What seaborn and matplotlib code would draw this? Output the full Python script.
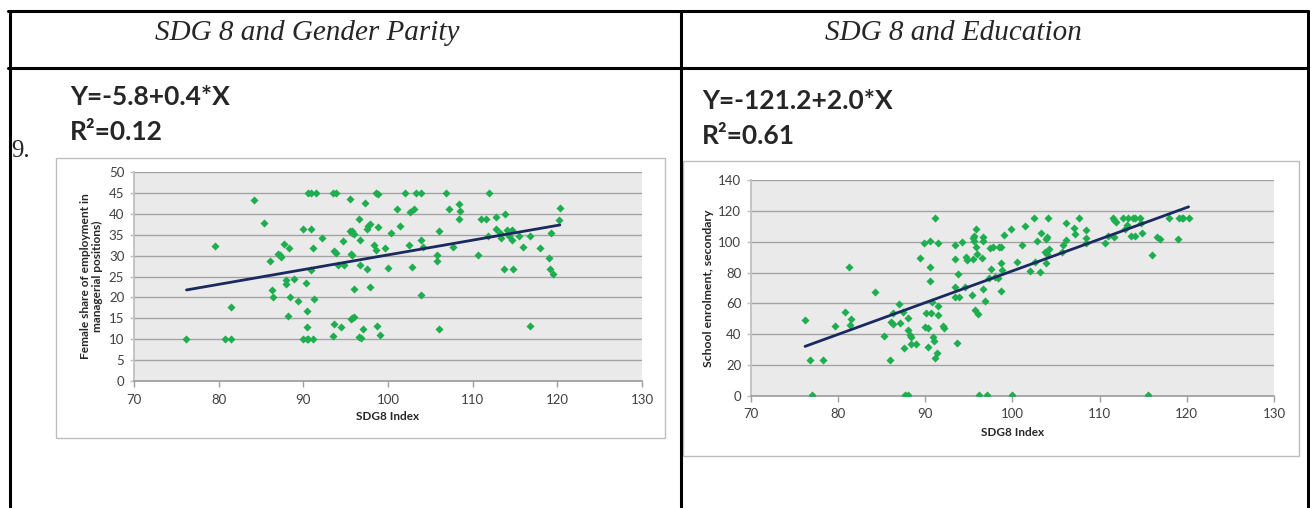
import matplotlib.pyplot as plt
import matplotlib.lines as mlines
import matplotlib.patches as mpatches
import numpy as np
import seaborn as sns
import pandas as pd

sns.set_theme(style="white")
plt.rcParams['font.family'] = ['Lato', 'DejaVu Sans']

# ---- data ----
gender_x = [76.2, 79.6, 81.4, 80.8, 81.4, 84.2, 85.3, 86.1, 86.3, 86.4,
            87.0, 87.2, 87.4, 87.7, 87.9, 87.9, 88.3, 88.2, 88.4, 88.9,
            89.4, 90.0, 90.0, 90.4, 90.6, 90.3, 90.4, 90.4, 90.5, 90.9,
            90.9, 90.9, 91.1, 91.2, 91.3, 91.5, 92.2, 93.5, 93.9, 93.5,
            93.6, 93.6, 93.8, 94.1, 94.5, 94.7, 94.8, 95.5, 95.5, 95.7,
            95.8, 96.0, 95.6, 95.8, 95.6, 95.8, 96.0, 96.0, 96.6, 96.8,
            96.6, 96.7, 96.7, 97.3, 97.1, 97.5, 97.5, 97.9, 97.6, 97.9,
            98.3, 98.6, 98.6, 98.8, 98.8, 98.7, 99.1, 99.7, 100.0, 100.4,
            101.1, 101.4, 102.0, 102.5, 102.6, 102.8, 103.1, 103.3, 103.9, 103.9,
            104.1, 103.9, 105.8, 105.8, 106.0, 106.0, 106.9, 107.2, 107.7, 108.4,
            108.5, 108.4, 110.6, 111.0, 111.6, 111.8, 111.9, 112.8, 112.8, 113.2,
            113.3, 113.7, 113.8, 114.1, 114.3, 114.7, 114.7, 114.8, 115.5, 116.0,
            116.8, 116.8, 117.9, 119.0, 119.1, 119.5, 119.3, 120.2, 120.3]
gender_y = [10.0, 32.4, 17.6, 10.0, 10.0, 43.4, 37.9, 28.8, 21.8, 20.1,
            30.4, 30.1, 29.7, 32.7, 24.1, 23.1, 31.8, 15.6, 20.1, 24.3,
            19.1, 36.3, 10.0, 10.0, 10.0, 23.4, 16.7, 12.8, 45.0, 45.0,
            36.3, 26.5, 31.7, 10.0, 19.5, 45.0, 34.2, 45.0, 45.0, 10.7,
            13.6, 31.0, 30.6, 27.7, 12.8, 33.6, 27.7, 43.5, 36.0, 35.8,
            35.5, 35.2, 30.5, 30.1, 14.8, 15.1, 15.3, 22.1, 10.6, 10.3,
            38.8, 33.8, 27.7, 42.7, 12.5, 36.3, 26.9, 22.6, 37.2, 37.6,
            32.5, 31.4, 45.0, 44.7, 36.8, 13.2, 11.1, 31.7, 27.1, 35.4,
            41.1, 37.1, 45.0, 32.6, 40.4, 27.3, 41.1, 45.0, 45.0, 33.8,
            32.1, 20.5, 28.6, 30.1, 35.8, 12.4, 45.0, 41.2, 32.1, 42.4,
            40.7, 38.7, 30.1, 38.7, 38.7, 34.7, 45.0, 39.2, 36.3, 35.5,
            34.1, 26.9, 39.9, 36.1, 34.7, 36.1, 33.8, 26.9, 34.7, 32.1,
            13.2, 34.7, 31.8, 29.4, 26.9, 25.7, 35.5, 38.6, 41.5]

edu_x = [76.2, 76.8, 77.0, 78.3, 79.6, 80.8, 81.3, 81.4, 81.5, 84.2,
         85.3, 86.0, 86.1, 86.3, 86.3, 87.0, 87.1, 87.4, 87.5, 87.7,
         88.0, 88.0, 88.0, 88.2, 88.4, 88.3, 88.9, 89.4, 89.9, 90.0,
         90.1, 90.3, 90.3, 90.5, 90.5, 90.5, 90.6, 90.8, 90.9, 91.0,
         91.1, 91.1, 91.3, 91.4, 91.5, 91.5, 92.0, 92.1, 93.6, 93.4,
         93.4, 93.4, 93.4, 93.9, 93.8, 94.2, 94.5, 94.7, 94.8, 95.4,
         95.5, 95.6, 95.6, 95.8, 95.5, 95.8, 95.9, 95.7, 96.0, 96.1,
         97.1, 96.5, 96.6, 96.6, 96.65, 96.8, 97.4, 97.8, 98.4, 98.7,
         97.5, 97.3, 98.0, 98.3, 98.7, 98.7, 98.85, 99.0, 99.8, 100.5,
         100.0, 101.1, 101.4, 102.0, 102.5, 102.6, 102.8, 103.1, 103.3, 103.7,
         103.8, 104.0, 103.9, 104.1, 104.0, 104.2, 105.7, 105.8, 106.1, 106.1,
         107.0, 107.2, 107.65, 108.4, 108.4, 108.4, 110.6, 111.0, 111.5, 111.7,
         111.85, 111.7, 112.7, 112.9, 113.1, 113.3, 113.8, 114.1, 113.65, 114.1,
         114.6, 114.7, 114.9, 115.6, 116.0, 116.6, 116.9, 117.9, 119.0, 119.1,
         119.4, 119.6, 120.2]
edu_y = [49.3, 23.3, 0.6, 23.3, 45.6, 54.7, 83.8, 46.0, 49.7, 67.6,
         38.9, 23.3, 47.7, 46.9, 54.0, 59.6, 47.5, 54.7, 30.9, 0.6,
         0.6, 50.3, 42.8, 39.5, 38.0, 33.5, 33.5, 89.2, 98.9, 44.9,
         54.0, 44.3, 32.0, 83.8, 74.7, 100.5, 54.0, 61.1, 38.5, 35.6,
         115.1, 24.4, 27.7, 98.9, 58.3, 52.5, 45.4, 43.9, 34.1, 97.9,
         88.8, 70.4, 63.9, 63.9, 79.1, 100.0, 70.4, 90.3, 88.1, 65.5,
         102.6, 103.7, 100.5, 96.3, 88.6, 108.0, 91.8, 55.7, 52.9, 0.6,
         0.6, 89.7, 102.8, 100.5, 69.1, 61.8, 96.1, 96.3, 96.8, 96.3,
         82.1, 76.3, 76.9, 76.3, 86.4, 68.0, 81.7, 104.3, 108.0, 87.1,
         0.6, 97.9, 110.2, 81.2, 115.1, 87.1, 100.5, 80.6, 105.9, 93.1,
         101.7, 102.8, 86.0, 115.1, 91.8, 95.1, 93.5, 97.9, 101.1, 112.3,
         109.1, 105.0, 115.1, 107.6, 102.6, 98.9, 98.9, 103.7, 115.1, 114.1,
         113.0, 103.3, 115.1, 108.0, 110.6, 115.1, 115.1, 115.1, 103.7, 103.7,
         115.1, 111.9, 105.9, 0.6, 91.4, 103.3, 102.0, 115.1, 101.5, 115.1,
         115.1, 115.1, 115.1]

x_ticks = [70, 80, 90, 100, 110, 120, 130]
gender_ticks = [0, 5, 10, 15, 20, 25, 30, 35, 40, 45, 50]
edu_ticks = [0, 20, 40, 60, 80, 100, 120, 140]

titles = ["SDG 8 and Gender Parity", "SDG 8 and Education"]
equations = ["Y=-5.8+0.4*X", "Y=-121.2+2.0*X"]
r2_texts = ["R²=0.12", "R²=0.61"]

W, H = 1310, 508
GREEN = '#1FAE4F'
NAVY = '#1B2A5E'


def fx(px):
    return px / W


def fy(py):
    return 1 - py / H


fig = plt.figure(figsize=(W / 100, H / 100), dpi=100)

# table grid lines
lw_tab = 2.2
for y in (11, 68):
    fig.add_artist(mlines.Line2D([fx(8), fx(1308)], [fy(y), fy(y)], color='black', lw=lw_tab))
for x in (9.5, 680.5, 1307.5):
    fig.add_artist(mlines.Line2D([fx(x), fx(x)], [fy(11), 0], color='black', lw=lw_tab))

# cell headers
serif = ['Liberation Serif', 'DejaVu Serif']
fig.text(fx(155), fy(40), titles[0], family=serif, style='italic', fontsize=21, va='baseline')
fig.text(fx(825), fy(40), titles[1], family=serif, style='italic', fontsize=21, va='baseline')
fig.text(fx(11), fy(157), "9.", family=serif, fontsize=18, va='baseline')

# equations
for x0, b1, b2, eq, r2 in [(70, 105, 140, equations[0], r2_texts[0]),
                           (702, 109, 144, equations[1], r2_texts[1])]:
    fig.text(fx(x0), fy(b1), eq, fontsize=19, fontweight='bold', color='#262626', va='baseline')
    fig.text(fx(x0), fy(b2), r2, fontsize=19, fontweight='bold', color='#262626', va='baseline')

# chart frames
for (x0, y0, x1, y1) in [(56.5, 158, 665, 438), (683, 161, 1299, 456)]:
    fig.add_artist(mpatches.Rectangle((fx(x0), fy(y1)), fx(x1) - fx(x0), fy(y0) - fy(y1),
                                      transform=fig.transFigure, fill=False,
                                      edgecolor='#BDBDBD', lw=1.0))


def draw_panel(rect, xs, ys, yticks, ylabel, ylab_x, xlab_y, ylab_size):
    ax = fig.add_axes(rect)
    df = pd.DataFrame({'x': xs, 'y': ys})
    ax.set_facecolor('#EAEAEA')
    ax.set_axisbelow(True)
    ax.yaxis.grid(True, color='#A3A3A3', lw=1.0)
    ax.xaxis.grid(False)
    sns.scatterplot(data=df, x='x', y='y', ax=ax, marker='D', s=17,
                    color=GREEN, linewidth=0, zorder=3)
    sns.regplot(data=df, x='x', y='y', ax=ax, scatter=False, ci=None,
                color=NAVY, line_kws=dict(lw=2.0, zorder=4))
    ax.set_xlim(x_ticks[0], x_ticks[-1])
    ax.set_ylim(yticks[0], yticks[-1])
    ax.set_xticks(x_ticks)
    ax.set_yticks(yticks)
    for s in ('top', 'right'):
        ax.spines[s].set_visible(False)
    ax.spines['left'].set_color('#BFBFBF')
    ax.spines['bottom'].set_color('#9E9E9E')
    ax.tick_params(axis='x', direction='out', length=4, width=1, color='#9E9E9E',
                   labelsize=9.5, labelcolor='#404040', pad=5)
    ax.tick_params(axis='y', direction='out', length=3, width=1, color='#BFBFBF',
                   labelsize=9.5, labelcolor='#404040', pad=4)
    ax.tick_params(bottom=True, left=True)
    ax.set_xlabel("SDG8 Index", fontsize=8.5, fontweight='bold', color='#262626')
    ax.xaxis.set_label_coords(0.5, xlab_y)
    ax.xaxis.label.set_va('center')
    ax.set_ylabel(ylabel, fontsize=ylab_size, fontweight='bold', color='#262626', linespacing=1.1)
    ax.yaxis.set_label_coords(ylab_x, 0.5)
    ax.yaxis.label.set_va('center')
    return ax


draw_panel([fx(134), fy(381), fx(642) - fx(134), fy(172) - fy(381)],
           gender_x, gender_y, gender_ticks,
           "Female share of employment in\nmanagerial positions)", -0.083, -0.172, 8.6)
draw_panel([fx(751), fy(396), fx(1274) - fx(751), fy(180) - fy(396)],
           edu_x, edu_y, edu_ticks,
           "School enrolment, secondary", -0.082, -0.171, 8.8)

fig.savefig("out.png", dpi=100)
